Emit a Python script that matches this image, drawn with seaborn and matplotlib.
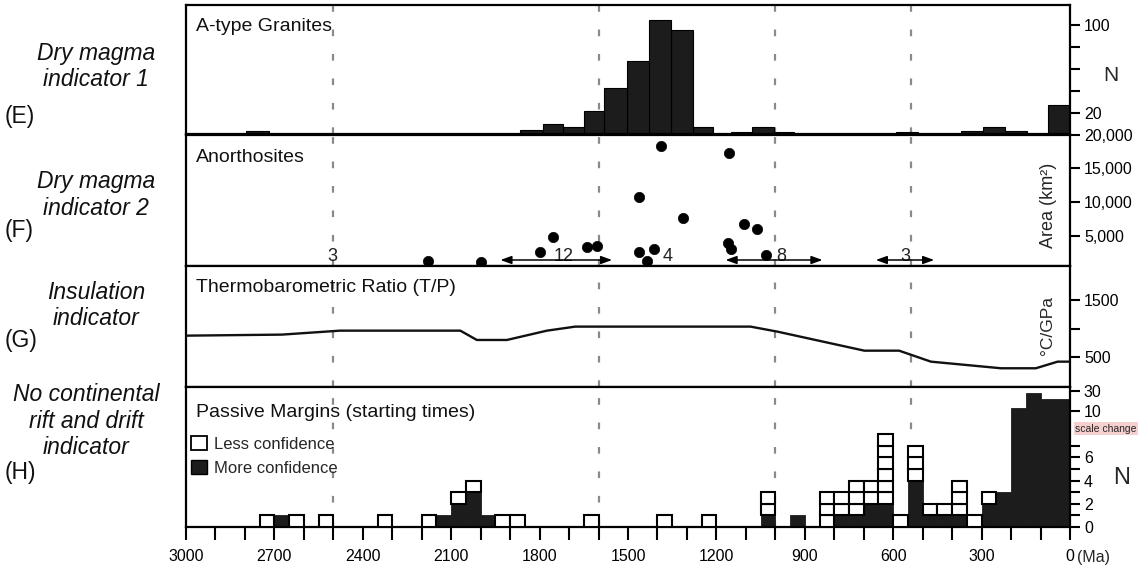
import numpy as np
import matplotlib
matplotlib.use("Agg")
import matplotlib.pyplot as plt
import seaborn as sns
from matplotlib.patches import Patch
from matplotlib.ticker import FixedLocator, NullFormatter, FixedFormatter

# ------------------------------------------------------------------ data
# (E) A-type granites: histogram bin edges (Ma, ascending) and counts per bin
granite_edges = [0, 75, 145, 220, 295, 370, 515, 590, 935, 1005, 1080, 1150,
                 1210, 1280, 1355, 1430, 1505, 1580, 1650, 1720, 1790, 1865,
                 2720, 2795]
granite_counts = [27, 0, 3, 7, 3, 0, 2, 0, 2, 7, 2, 0,
                  7, 95, 104, 67, 42, 21, 7, 10, 4, 0, 3]

# (F) Anorthosites: age (Ma) and area (km2)
anor_age = [2180, 1999, 1797, 1756, 1639, 1605, 1387, 1158, 1461, 1313,
            1107, 1061, 1161, 1152, 1461, 1413, 1435, 1030]
anor_area = [1290, 1140, 2540, 4820, 3280, 3520, 18260, 17280, 10730, 7690,
             6750, 6050, 3970, 3030, 2540, 2990, 1200, 2140]
# count annotations (label, centre age, arrow start, arrow end)
count_labels = ["3", "12", "4", "8", "3"]
count_age = [2505, 1720, 1367, 979, 560]
arrow_from = [None, 1933, None, 1169, 659]
arrow_to = [None, 1554, None, 840, 461]

# (G) Thermobarometric ratio T/P (degC/GPa)
tp_age = [3000, 2675, 2477, 2069, 2013, 1911, 1775, 1679, 1084, 993, 698,
          580, 472, 234, 116, 42, 0]
tp_val = [879, 897, 966, 966, 804, 804, 966, 1036, 1036, 949, 618,
          618, 427, 312, 312, 427, 427]

# (H) Passive margins (starting times), 50 Ma bins; younger edge of bin
pm_bin = [2700, 2650, 2600, 2500, 2300, 2150, 2100, 2050, 2000, 1950, 1900,
          1850, 1600, 1350, 1200, 1000, 900, 800, 750, 700, 650, 600, 550,
          500, 450, 400, 350, 300, 250, 200, 150, 100, 50, 0]
pm_more = [0, 1, 0, 0, 0, 0, 1, 2, 3, 1, 0,
           0, 0, 0, 0, 1, 1, 0, 1, 1, 2, 2, 0,
           4, 1, 1, 1, 0, 2, 3, 13, 28, 22, 22]
pm_less = [1, 0, 1, 1, 1, 1, 0, 1, 1, 0, 1,
           1, 1, 1, 1, 2, 0, 3, 2, 3, 2, 6, 1,
           3, 1, 1, 3, 1, 1, 0, 0, 0, 0, 0]

boundaries = [2500, 1600, 1000, 541]
x_tick_labels = ["3000", "2700", "2400", "2100", "1800", "1500", "1200",
                 "900", "600", "300", "0"]

# ------------------------------------------------------------------ style
sns.set_theme(style="ticks")
plt.rcParams["font.family"] = ["Liberation Sans", "DejaVu Sans"]
plt.rcParams["axes.edgecolor"] = "black"
plt.rcParams["axes.linewidth"] = 1.6

W, H = 1146, 565
fig = plt.figure(figsize=(W / 100, H / 100), dpi=100)
fig.patch.set_facecolor("white")


def rect(top, bottom, left=186, right=1070):
    return [left / W, 1 - bottom / H, (right - left) / W, (bottom - top) / H]


axE = fig.add_axes(rect(5, 134.5))
axF = fig.add_axes(rect(134.5, 266))
axG = fig.add_axes(rect(266, 386.5))
axH = fig.add_axes(rect(386.5, 527))
axes = [axE, axF, axG, axH]

BLACK = "#1c1c1c"
DASH = "#8a8a8a"

for ax in axes:
    for b in boundaries:
        ax.axvline(b, color=DASH, lw=1.6, ls=(0, (3, 8)), zorder=0.5)

# ---- (E)
gr_centers = [(a + b) / 2 for a, b in zip(granite_edges[:-1], granite_edges[1:])]
sns.histplot(x=gr_centers, weights=granite_counts, bins=granite_edges, ax=axE,
             color=BLACK, edgecolor="black", linewidth=0.8, alpha=1, zorder=2)
axE.set_ylim(0, 118)
axE.set_yticks([20, 40, 60, 80, 100])
axE.set_yticklabels(["20", "", "", "", "100"])

# ---- (F)
sns.scatterplot(x=anor_age, y=anor_area, ax=axF, color="black", s=55,
                edgecolor="black", linewidth=0.5, legend=False, zorder=3)
axF.set_ylim(500, 20000)
axF.set_yticks([5000, 10000, 15000, 20000])
axF.set_yticklabels(["5,000", "10,000", "15,000", "20,000"])
for lab, a, s, e in zip(count_labels, count_age, arrow_from, arrow_to):
    axF.text(a, 1250, lab, ha="center", va="baseline", fontsize=13,
             color="#222222", zorder=4)
    if s is not None:
        axF.annotate("", xy=(e, 1390), xytext=(s, 1390),
                     arrowprops=dict(arrowstyle="<|-|>,head_length=0.55,head_width=0.2",
                                     color="black", lw=1.1, shrinkA=0, shrinkB=0),
                     zorder=4)

# ---- (G)
sns.lineplot(x=tp_age, y=tp_val, ax=axG, color="#111111", lw=1.7,
             estimator=None, zorder=3)
axG.set_ylim(-5, 2090)
axG.set_yticks([500, 1000, 1500])
axG.set_yticklabels(["500", "", "1500"])

# ---- (H)
edges_pm = list(range(0, 2801, 50))
pm_centers = [b + 25 for b in pm_bin]
sns.histplot(x=pm_centers, weights=pm_more, bins=edges_pm, ax=axH,
             color=BLACK, edgecolor=BLACK, linewidth=0.6, alpha=1, zorder=2)
for b, m, n in zip(pm_bin, pm_more, pm_less):
    for k in range(n):
        axH.bar(b, 1, width=50, bottom=m + k, align="edge", facecolor="white",
                edgecolor="black", linewidth=1.5, zorder=3)


def fwd(y):
    y = np.asarray(y, dtype=float)
    return np.where(y <= 10, y, 10 + (y - 10) / 11.6)


def inv(u):
    u = np.asarray(u, dtype=float)
    return np.where(u <= 10, u, 10 + (u - 10) * 11.6)


axH.set_yscale("function", functions=(fwd, inv))
axH.set_ylim(0, 34.7)
axH.yaxis.set_major_locator(FixedLocator([0, 2, 4, 6, 10, 30]))
axH.yaxis.set_minor_locator(FixedLocator([1, 3, 5, 7]))
axH.yaxis.set_major_formatter(FixedFormatter(["0", "2", "4", "6", "10", "30"]))
axH.yaxis.set_minor_formatter(NullFormatter())

axH.legend(handles=[Patch(facecolor="white", edgecolor="black", lw=1.3, label="Less confidence"),
                    Patch(facecolor=BLACK, edgecolor="black", label="More confidence")],
           loc="upper left", bbox_to_anchor=(0.006, 0.645), frameon=False,
           fontsize=12, handlelength=0.95, handleheight=0.85, handletextpad=0.4,
           labelspacing=0.52, borderaxespad=0, borderpad=0)

# ---- common axis formatting
for ax in axes:
    ax.set_xlim(3000, 0)
    ax.set_xlabel("")
    ax.set_ylabel("")
    ax.yaxis.tick_right()
    ax.tick_params(axis="y", which="both", direction="out", length=7, width=1.5,
                   labelsize=11.5, pad=3, colors="black")
    for sp in ax.spines.values():
        sp.set_visible(True)
        sp.set_color("black")
        sp.set_linewidth(1.6)
    ax.set_facecolor("white")

for ax in [axE, axF, axG]:
    ax.tick_params(axis="x", bottom=False, labelbottom=False)

axH.set_xticks(list(range(3000, -1, -300)))
axH.set_xticklabels(x_tick_labels)
axH.xaxis.set_minor_locator(FixedLocator(list(range(0, 3001, 100))))
axH.tick_params(axis="x", which="both", direction="out", length=9.5, width=1.5,
                labelsize=11.5, pad=6.5, colors="black")
axH.annotate("(Ma)", xy=(0, 0), xycoords=("data", "axes fraction"),
             xytext=(5, -16.5), textcoords="offset points", ha="left", va="top",
             fontsize=11.5)

# ---- panel titles
titles = ["A-type Granites", "Anorthosites", "Thermobarometric Ratio (T/P)",
          "Passive Margins (starting times)"]
title_y = [0.80, 0.79, 0.785, 0.783]
for ax, t, y in zip(axes, titles, title_y):
    ax.text(0.011, y, t, transform=ax.transAxes, ha="left", va="baseline",
            fontsize=14, color="#111111", zorder=5)

# ---- axis unit labels inside plot
axF.text(0.976, 0.46, "Area (km²)", transform=axF.transAxes, rotation=90,
         ha="center", va="center", fontsize=13)
axG.text(0.975, 0.51, "°C/GPa", transform=axG.transAxes, rotation=90,
         ha="center", va="center", fontsize=12.5)
fig.text(1111 / W, 1 - 76 / H, "N", ha="center", va="center", fontsize=15)
fig.text(1122 / W, 1 - 478 / H, "N", ha="center", va="center", fontsize=17)
fig.text(1106 / W, 1 - 428.5 / H, "scale change", ha="center", va="center",
         fontsize=7.5, family=["Liberation Sans Narrow", "Liberation Sans"],
         bbox=dict(boxstyle="square,pad=0.15", fc="#f6cfcf", ec="none"))

# ---- left-hand indicator labels
left_labels = ["Dry magma\nindicator 1", "Dry magma\nindicator 2",
               "Insulation\nindicator", "No continental\nrift and drift\nindicator"]
left_x = [96, 96, 96, 86]
left_y = [66.5, 195, 305.5, 421]
letters = ["(E)", "(F)", "(G)", "(H)"]
letter_y = [116, 230, 340, 472]
for t, x, y in zip(left_labels, left_x, left_y):
    fig.text(x / W, 1 - y / H, t, ha="center", va="center", fontsize=16.5,
             style="italic", linespacing=1.2, color="#111111")
for t, y in zip(letters, letter_y):
    fig.text(5 / W, 1 - y / H, t, ha="left", va="center", fontsize=16.5,
             color="#111111")

fig.savefig("out.png", dpi=100)
